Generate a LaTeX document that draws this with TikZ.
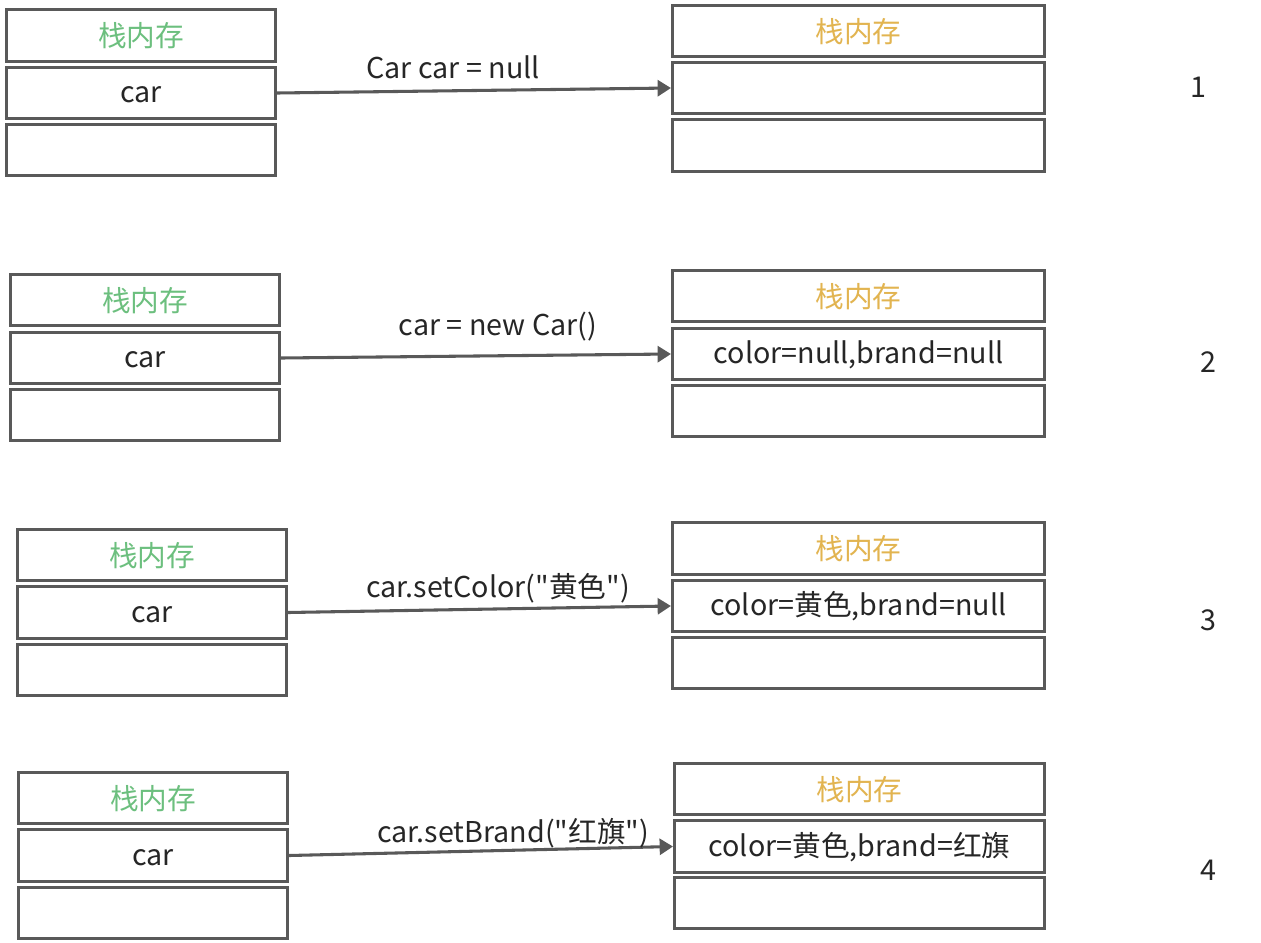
\documentclass[tikz,border=0pt]{standalone}
\usepackage{fontspec}
\setmainfont{Noto Sans CJK SC}[Ligatures=TeXOff]
\usetikzlibrary{arrows.meta}
\definecolor{bordergray}{HTML}{595959}
\definecolor{stackgreen}{HTML}{6CBF7E}
\definecolor{heapgold}{HTML}{E2B450}
\definecolor{txt}{HTML}{262626}
\tikzset{
  cell/.style={draw=bordergray, line width=2.3pt, fill=white, inner sep=0pt, font=\fontsize{21.5}{24}\selectfont, text=txt, text height=19pt, text depth=4.3pt},
  head/.style={text height=17pt, text depth=0pt},
  lcell/.style={cell, minimum width=202pt, minimum height=38.5pt},
  rcell/.style={cell, minimum width=279pt, minimum height=38.5pt},
  lbl/.style={font=\fontsize{21.5}{24}\selectfont, text=txt, inner sep=0pt},
  ptr/.style={draw=bordergray, line width=2.3pt, -{Triangle[length=10pt,width=12pt]}},
}
\begin{document}
\begin{tikzpicture}[x=0.75pt,y=-0.75pt]
\useasboundingbox (0,0) rectangle (1261,943);
% row 1
\node[lcell, head, text=stackgreen] (l1a) at (141,35.5) {栈内存};
\node[lcell] (l1b) at (141,93) {car};
\node[lcell] (l1c) at (141,150) {};
\node[rcell, head, text=heapgold] (r1a) at (858.5,31) {栈内存};
\node[rcell] (r1b) at (858.5,88) {};
\node[rcell] (r1c) at (858.5,145.5) {};
\draw[ptr] (l1b.east) -- (r1b.west);
\node[lbl] (t1) at (453,67) {Car car = null};
\node[lbl] (n1) at (1198,87) {1};
% row 2
\node[lcell, head, text=stackgreen] (l2a) at (145,300) {栈内存};
\node[lcell] (l2b) at (145,358) {car};
\node[lcell] (l2c) at (145,415) {};
\node[rcell, head, text=heapgold] (r2a) at (858.5,296) {栈内存};
\node[rcell] (r2b) at (858.5,354) {color=null,brand=null};
\node[rcell] (r2c) at (858.5,411) {};
\draw[ptr] (l2b.east) -- (r2b.west);
\node[lbl] (t2) at (498,327) {car = new Car()};
\node[lbl] (n2) at (1208,362) {2};
% row 3
\node[lcell, head, text=stackgreen] (l3a) at (152,555) {栈内存};
\node[lcell] (l3b) at (152,612.5) {car};
\node[lcell] (l3c) at (152,670) {};
\node[rcell, head, text=heapgold] (r3a) at (858.5,548.5) {栈内存};
\node[rcell] (r3b) at (858.5,606) {color=黄色,brand=null};
\node[rcell] (r3c) at (858.5,663) {};
\draw[ptr] (l3b.east) -- (r3b.west);
\node[lbl] (t3) at (498,588) {car.setColor("黄色")};
\node[lbl] (n3) at (1208,620) {3};
% row 4
\node[lcell, head, text=stackgreen] (l4a) at (153,798) {栈内存};
\node[lcell] (l4b) at (153,855.5) {car};
\node[lcell] (l4c) at (153,913) {};
\node[minimum width=277.5pt, minimum height=38.5pt, cell, head, text=heapgold] (r4a) at (859.5,789) {栈内存};
\node[minimum width=277.5pt, minimum height=38.5pt, cell] (r4b) at (859.5,846.5) {color=黄色,brand=红旗};
\node[minimum width=277.5pt, minimum height=38.5pt, cell] (r4c) at (859.5,903) {};
\draw[ptr] (l4b.east) -- (r4b.west);
\node[lbl] (t4) at (513,833) {car.setBrand("红旗")};
\node[lbl] (n4) at (1208,870) {4};
\end{tikzpicture}
\end{document}
